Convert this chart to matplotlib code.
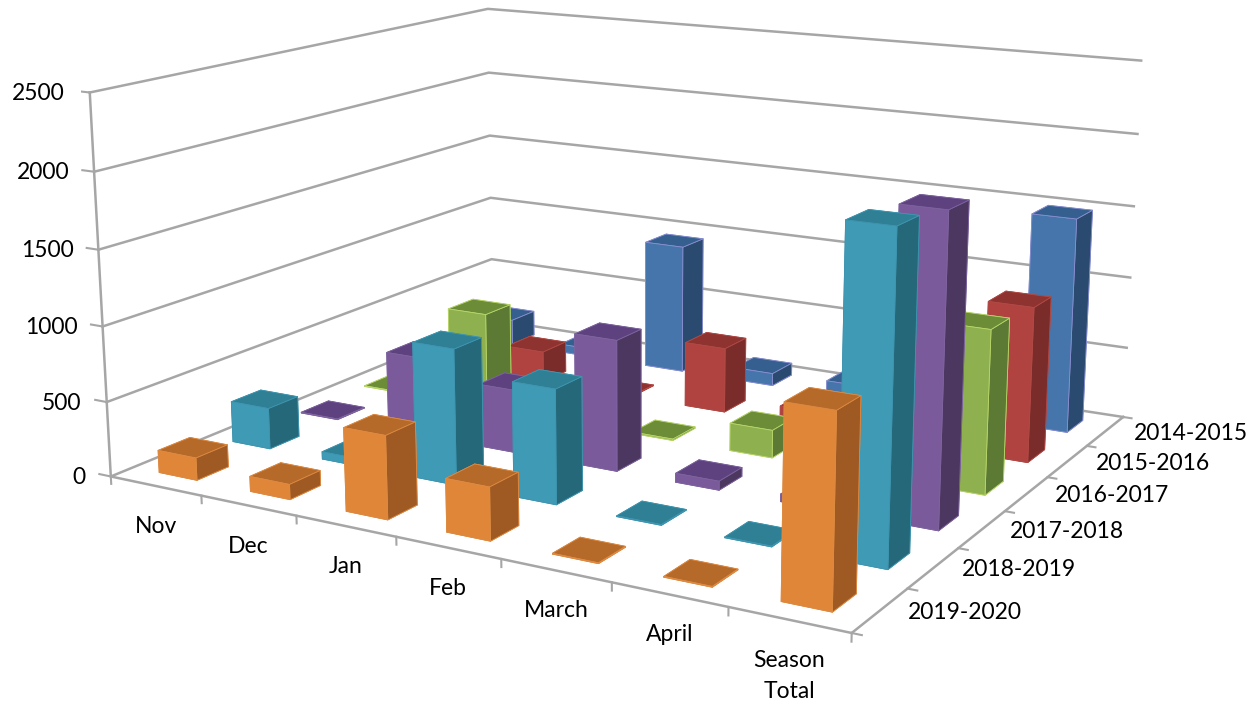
import numpy as np
import matplotlib
matplotlib.use('Agg')
import matplotlib.pyplot as plt
from mpl_toolkits.mplot3d import proj3d

W, H = 1257, 708
plt.rcParams['font.family'] = ['Lato', 'DejaVu Sans']

months = ['Nov', 'Dec', 'Jan', 'Feb', 'March', 'April', 'Season\nTotal']
seasons = ['2019-2020', '2018-2019', '2017-2018', '2016-2017', '2015-2016', '2014-2015']
yticks = [0, 500, 1000, 1500, 2000, 2500]

# front row first
v_1920 = [150, 100, 540, 340, 5, 5, 1160]
v_1819 = [280, 50, 900, 750, 5, 5, 2030]
v_1718 = [5, 545, 430, 880, 60, 50, 1980]
v_1617 = [5, 680, 5, 10, 190, 5, 1080]
v_1516 = [5, 225, 5, 460, 110, 5, 1050]
v_1415 = [190, 60, 945, 90, 100, 100, 1490]
values = [v_1920, v_1819, v_1718, v_1617, v_1516, v_1415]

cols = ['#e08639', '#3f9ab6', '#7a5a9a', '#8fb04e', '#b0433f', '#4575ab']
tops = ['#b56a2a', '#2f8095', '#5e4280', '#6c8c38', '#8f3331', '#345f8f']
sides = ['#9e5a22', '#25687a', '#4c3760', '#5c7a33', '#7a2c2a', '#2b4a6f']
edges = ['#dd8a42', '#3f95b0', '#7e649f', '#b8d66a', '#b04a46', '#8a8fd0']
grey = '#a6a6a6'

fig = plt.figure(figsize=(W / 100, H / 100), dpi=100)
ax = fig.add_subplot(projection='3d')
ax.set_xlim(0, 7)
ax.set_ylim(0, 6)
ax.set_zlim(0, 2500)
# camera fitted to the corners of the box in the picture
ax.set_box_aspect((np.exp(0.739), np.exp(0.583), 1))
ax.view_init(elev=13.706, azim=-60.164)
ax.set_proj_type('persp', focal_length=0.4087)
ax.set_position([80.8 / W, -112.1 / H, 1082.5 / W, 1082.5 / H])
ax.set_axis_off()
ax.computed_zorder = False


def label(x, y, z, txt, dx, dy, **kw):
    # text placed some pixels away from a point of the 3d box
    u, v, _ = proj3d.proj_transform(x, y, z, ax.get_proj())
    ax.annotate(txt, (u, v), xytext=(dx, dy), textcoords='offset pixels',
                annotation_clip=False, fontsize=16.5, color='k', zorder=1000, **kw)


z = 1
for lev in yticks:
    ax.plot([0, 0, 7], [0, 6, 6], [lev, lev, lev], color=grey, lw=1.8, zorder=z)
    ax.plot([-0.13, 0], [0, 0], [lev, lev], color=grey, lw=1.5, zorder=z)
    label(0, 0, lev, str(lev), -25, -1, ha='right', va='center')
ax.plot([7, 0, 0], [0, 0, 0], [0, 0, 2500], color=grey, lw=1.8, zorder=z)
ax.plot([7, 7], [0, 6], [0, 0], color=grey, lw=1.8, zorder=z)
for i in range(8):
    ax.plot([i, i], [0, 0], [0, -50], color=grey, lw=1.5, zorder=z)
for j in range(7):
    ax.plot([7, 7.08], [j, j], [0, 0], color=grey, lw=1.5, zorder=z)
for i, m in enumerate(months):
    label(i + 0.5, 0, 0, m, 0, -30, ha='center', va='top', linespacing=1.6)
for j, s in enumerate(seasons):
    label(7, j + 0.5, 0, s, 28, -2, ha='left', va='center')

# back row first, left to right, so that nearer bars paint over farther ones
for j in range(5, -1, -1):
    for i in range(7):
        z += 1
        ax.bar3d(i + 0.29, j + 0.29, 0, 0.42, 0.42, values[j][i], shade=False,
                 color=[cols[j], tops[j], cols[j], cols[j], cols[j], sides[j]],
                 edgecolor=edges[j], linewidth=0.6, zorder=z)

fig.savefig('out.png', dpi=100)
